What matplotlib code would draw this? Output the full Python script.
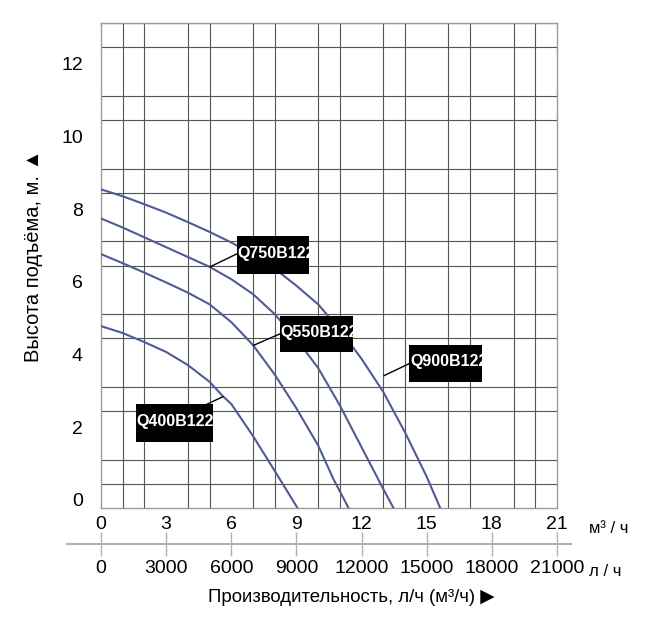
import numpy as np
import matplotlib
matplotlib.use('Agg')
import matplotlib.pyplot as plt
from matplotlib.patches import Rectangle
from matplotlib.transforms import ScaledTranslation

plt.rcParams['font.family'] = ['Liberation Sans', 'DejaVu Sans']

# pump head curves: flow (m3/h) vs head (m)
q400_flow = [0, 1, 2, 3, 4, 5, 5.6, 6, 7, 8, 9.05]
q400_head = [5.0, 4.81, 4.56, 4.29, 3.93, 3.47, 3.08, 2.86, 1.98, 1.02, 0.0]
q550_flow = [0, 1, 2, 3, 4, 5, 6, 7, 8, 9, 10, 10.7, 11.4]
q550_head = [6.98, 6.73, 6.47, 6.2, 5.92, 5.6, 5.11, 4.48, 3.67, 2.74, 1.72, 0.8, 0.0]
q750_flow = [0, 1, 2, 3, 4, 5, 6, 7, 8, 9, 10, 11, 12, 13, 13.47]
q750_head = [7.96, 7.71, 7.44, 7.17, 6.9, 6.63, 6.29, 5.88, 5.33, 4.64, 3.85, 2.82, 1.67, 0.52, 0.0]
q900_flow = [0, 1, 2, 3, 4, 5, 6, 7, 8, 9, 10, 11, 12, 13, 14, 15, 15.62]
q900_head = [8.76, 8.57, 8.35, 8.12, 7.86, 7.59, 7.30, 6.96, 6.58, 6.11, 5.6, 4.9, 4.1, 3.19, 2.08, 0.86, 0.0]

models = ['Q400B122', 'Q550B122', 'Q750B122', 'Q900B122']
flows = [q400_flow, q550_flow, q750_flow, q900_flow]
heads = [q400_head, q550_head, q750_head, q900_head]

m3h_ticks = [0, 3, 6, 9, 12, 15, 18, 21]
lh_ticks = [0, 3000, 6000, 9000, 12000, 15000, 18000, 21000]
head_ticks = [0, 2, 4, 6, 8, 10, 12]

# label boxes (x0, x1, y0, y1) and leader lines (x curve, x box, y curve, y box)
boxes = [(1.61, 5.15, 1.81, 2.85), (8.25, 11.6, 4.28, 5.29),
         (6.27, 9.59, 6.44, 7.48), (14.2, 17.56, 3.47, 4.49)]
leaders = [((5.61, 4.87), (3.06, 2.85)), ((7.02, 8.25), (4.47, 4.79)),
           ((5.02, 6.27), (6.63, 6.99)), ((13.04, 14.2), (3.64, 3.97))]

CURVE = '#4f5b93'
GRID = '#555555'
FRAME = '#999999'
SUB = '#b0b0b0'

W, H = 662, 636
fig = plt.figure(figsize=(W / 100, H / 100), dpi=100, facecolor='white')

ax = fig.add_axes([101 / W, 1 - 508 / H, 456 / W, 485 / H])
ax.set_xlim(0, 21)
ax.set_ylim(0, 40 / 3)

ax.set_xticks(m3h_ticks)
ax.set_xticks(np.arange(0, 22), minor=True)
ax.set_yticks(head_ticks)
ax.set_yticks(np.arange(0, 20.5) * 2 / 3, minor=True)
ax.grid(which='minor', color=GRID, lw=0.8)
ax.tick_params(which='both', length=0)
ax.tick_params(axis='x', labelsize=14, pad=5.5)
ax.tick_params(axis='y', labelsize=14, pad=13)
for lab in ax.get_yticklabels():
    lab.set_transform(lab.get_transform() +
                      ScaledTranslation(0, 8 / 100, fig.dpi_scale_trans))
for sp in ax.spines.values():
    sp.set_color(FRAME)
    sp.set_linewidth(1)

for f, h in zip(flows, heads):
    ax.plot(f, h, color=CURVE, lw=1.5, zorder=3, solid_joinstyle='round')

for name, (x0, x1, y0, y1), (lx, ly) in zip(models, boxes, leaders):
    ax.plot(lx, ly, color='black', lw=1, zorder=4)
    rect = Rectangle((x0, y0), x1 - x0, y1 - y0, facecolor='black',
                     edgecolor='none', zorder=5)
    ax.add_patch(rect)
    t = ax.text(x0 + 0.03, (y0 + y1) / 2 + 0.05, name, color='white',
                fontsize=11.5, fontweight='bold', ha='left', va='center',
                zorder=6)
    t.set_clip_path(rect)

# second scale in litres per hour
ax2 = fig.add_axes([67 / W, 1 - 543.7 / H, 504 / W, 0.0001])
ax2.set_xlim(-1566, 21645)
ax2.set_ylim(0, 1)
ax2.set_yticks([])
ax2.set_xticks(lh_ticks)
ax2.tick_params(axis='x', direction='inout', length=17.5, width=1,
                color=SUB, labelsize=14, pad=3)
for side in ['top', 'left', 'right']:
    ax2.spines[side].set_visible(False)
ax2.spines['bottom'].set_color(SUB)
ax2.spines['bottom'].set_linewidth(1.5)
ax2.patch.set_visible(False)

fig.text(589 / W, 1 - 528.5 / H, 'м³ / ч', fontsize=12, ha='left', va='center')
fig.text(589 / W, 1 - 571 / H, 'л / ч', fontsize=12, ha='left', va='center')
fig.text(351 / W, 1 - 597 / H, 'Производительность, л/ч (м³/ч) ▶',
         fontsize=13.4, ha='center', va='center')
fig.text(34 / W, 1 - 256 / H, 'Высота подъёма, м. ▲', fontsize=14.5,
         rotation=90, ha='center', va='center')

fig.savefig('out.png', dpi=100, facecolor='white')
